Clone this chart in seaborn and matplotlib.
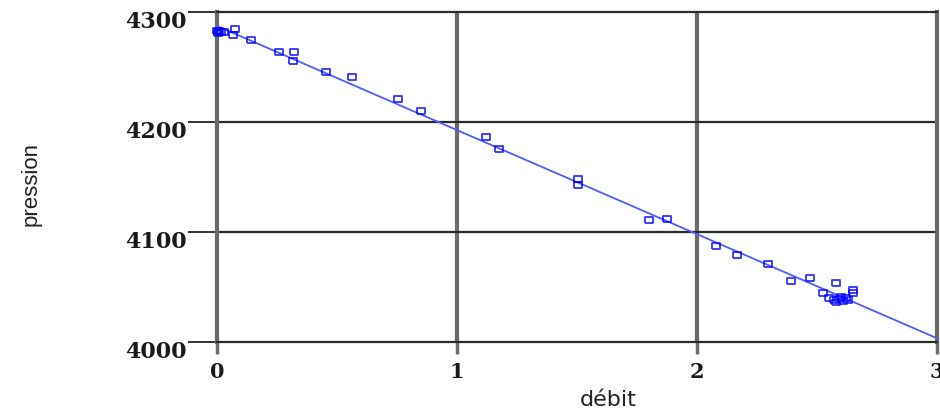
import matplotlib
matplotlib.use("Agg")
import matplotlib.pyplot as plt
import matplotlib.transforms as mtransforms
import seaborn as sns
import pandas as pd

# flow rate (débit) and measured pressure readings
debit = [0.0, 0.005, 0.01, 0.015, 0.03, 0.067, 0.075, 0.14, 0.26, 0.32, 0.317,
         0.454, 0.5625, 0.754, 0.85, 1.121, 1.175, 1.504, 1.504, 1.80, 1.875,
         2.08, 2.167, 2.296, 2.39, 2.47, 2.58, 2.525, 2.65, 2.65, 2.55, 2.57,
         2.59, 2.61, 2.62, 2.63, 2.58, 2.60]
pression = [4283, 4281, 4283, 4282, 4282, 4279, 4284.5, 4274.5, 4263.5, 4263.5,
            4255.5, 4245.5, 4241, 4221, 4210, 4186.5, 4175.5, 4148, 4142.5, 4111,
            4112, 4087.5, 4079, 4071, 4055.5, 4058, 4053.5, 4044.5, 4047.5,
            4044.5, 4040, 4038, 4039, 4037, 4040, 4038, 4036, 4041]

x_ticks = [0, 1, 2, 3]
y_ticks = [4000, 4100, 4200, 4300]

df = pd.DataFrame({"débit": debit, "pression": pression})

sns.set_theme(style="white")
plt.rcParams["font.family"] = ["DejaVu Sans"]

fig = plt.figure(figsize=(9.4, 4.12), dpi=100)
ax = fig.add_axes([217 / 940, 70 / 412, 720 / 940, 330 / 412])
ax.set_xlim(0, 3)
ax.set_ylim(4000, 4300)

# wide, flat open rectangle marker
rect = [(-1.4, -1), (1.4, -1), (1.4, 1), (-1.4, 1), (-1.4, -1)]

sns.regplot(
    data=df, x="débit", y="pression", ax=ax, ci=None, truncate=False,
    marker=rect,
    scatter_kws=dict(s=32, facecolors="none", edgecolors="#0000ff",
                     linewidths=1.3, clip_on=False, zorder=4),
    line_kws=dict(color="#4f5cff", lw=1.3, zorder=3),
)
ax.set_xlim(0, 3)
ax.set_ylim(4000, 4300)

ax.set_xticks(x_ticks)
ax.set_yticks(y_ticks)
tick_font = dict(family="DejaVu Serif", weight="bold", size=15)
ax.set_xticklabels([str(v) for v in x_ticks], fontdict=tick_font, color="#1a1a1a")
ax.set_yticklabels([str(v) for v in y_ticks],
                   fontdict=dict(tick_font, size=16), color="#1a1a1a")
ax.tick_params(axis="y", direction="out", length=21, width=1.3, color="#222222",
               pad=1, left=True)
ax.tick_params(axis="x", direction="out", length=8.5, width=2.5, color="#6e6e6e",
               pad=6, bottom=True)

# y tick labels sit a little below their tick marks
shift = mtransforms.ScaledTranslation(0, -7 / 100, fig.dpi_scale_trans)
for lab in ax.get_yticklabels():
    lab.set_transform(lab.get_transform() + shift)

# grid: thick grey verticals, thinner dark horizontals
for v in x_ticks[1:-1]:
    ax.axvline(v, color="#6a6a6a", lw=3, zorder=1)
for v in y_ticks[1:-1]:
    ax.axhline(v, color="#2a2a2a", lw=1.6, zorder=1)

for side in ["left", "right"]:
    ax.spines[side].set_color("#6a6a6a")
    ax.spines[side].set_linewidth(3)
for side in ["top", "bottom"]:
    ax.spines[side].set_color("#2a2a2a")
    ax.spines[side].set_linewidth(1.6)

ax.set_xlabel("débit", fontsize=16, color="#222222", va="baseline")
ax.xaxis.set_label_coords(0.543, -0.194)
ax.set_ylabel("pression", fontsize=16, color="#222222", va="center",
              family=["Liberation Sans", "DejaVu Sans"])
ax.yaxis.set_label_coords(-0.258, 0.479)

fig.savefig("out.png", dpi=100)
